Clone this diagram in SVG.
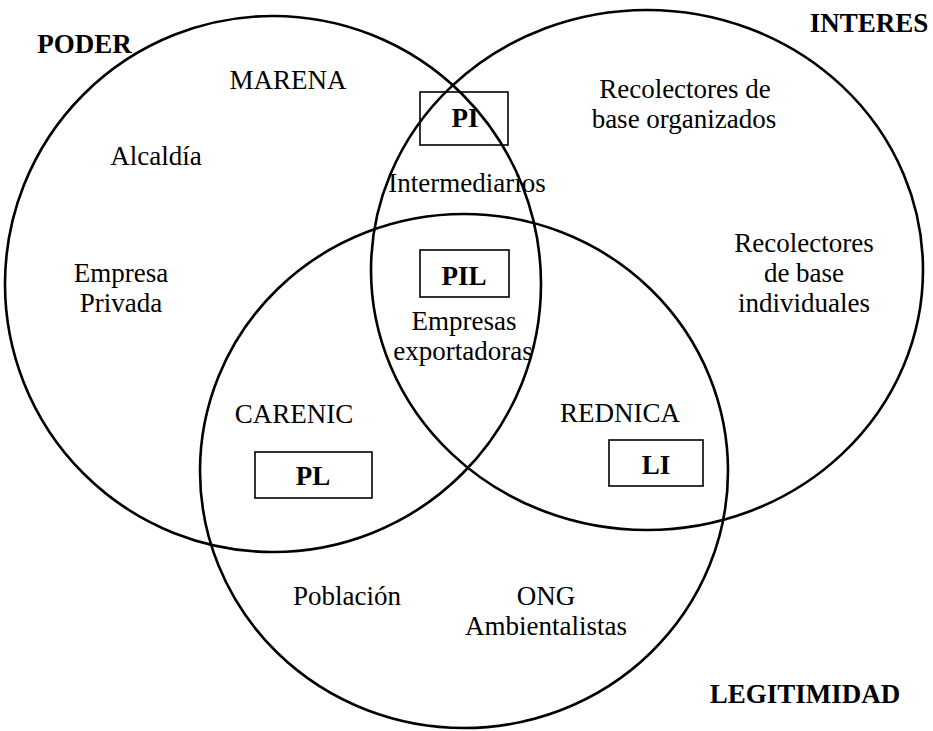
<svg xmlns="http://www.w3.org/2000/svg" width="933" height="731" viewBox="0 0 933 731">
<style>
.c{fill:none;stroke:#000;stroke-width:2.6}
.b{fill:none;stroke:#000;stroke-width:1.6}
text{font-family:'Liberation Serif',serif;font-size:27px;fill:#000;text-anchor:middle}
.h{font-weight:bold}
</style>
<rect width="933" height="731" fill="#fff"/>
<g id="circles">
<ellipse id="poder" class="c" cx="273" cy="284" rx="268" ry="268"/>
<ellipse id="interes" class="c" cx="647" cy="270" rx="276" ry="260"/>
<ellipse id="legitimidad" class="c" cx="464" cy="471" rx="264" ry="257"/>
</g>
<g id="titles">
<text class="h" x="84.5" y="53">PODER</text>
<text class="h" x="869" y="32">INTERES</text>
<text class="h" x="805" y="703">LEGITIMIDAD</text>
</g>
<g id="n-marena"><text x="288" y="89">MARENA</text></g>
<g id="n-alcaldia"><text x="156" y="165">Alcaldía</text></g>
<g id="n-empresa-privada"><text x="121" y="282">Empresa</text><text x="121" y="312">Privada</text></g>
<g id="n-pi"><rect class="b" x="420" y="92" width="88" height="53"/><text class="h" x="465" y="127">PI</text></g>
<g id="n-intermediarios"><text x="467" y="192">Intermediarios</text></g>
<g id="n-pil"><rect class="b" x="420" y="250" width="89" height="47"/><text class="h" x="464" y="285">PIL</text></g>
<g id="n-empresas-exportadoras"><text x="464" y="330">Empresas</text><text x="463" y="360">exportadoras</text></g>
<g id="n-recolectores-org"><text x="685" y="98">Recolectores de</text><text x="684" y="128">base organizados</text></g>
<g id="n-recolectores-ind"><text x="804" y="252">Recolectores</text><text x="804" y="282">de base</text><text x="804" y="312">individuales</text></g>
<g id="n-carenic"><text x="294" y="423">CARENIC</text></g>
<g id="n-pl"><rect class="b" x="255" y="452" width="117" height="46"/><text class="h" x="313" y="485">PL</text></g>
<g id="n-rednica"><text x="620" y="422">REDNICA</text></g>
<g id="n-li"><rect class="b" x="609" y="440" width="94" height="46"/><text class="h" x="656" y="474">LI</text></g>
<g id="n-poblacion"><text x="347" y="605">Población</text></g>
<g id="n-ong"><text x="546" y="605">ONG</text><text x="546" y="635">Ambientalistas</text></g>
</svg>
